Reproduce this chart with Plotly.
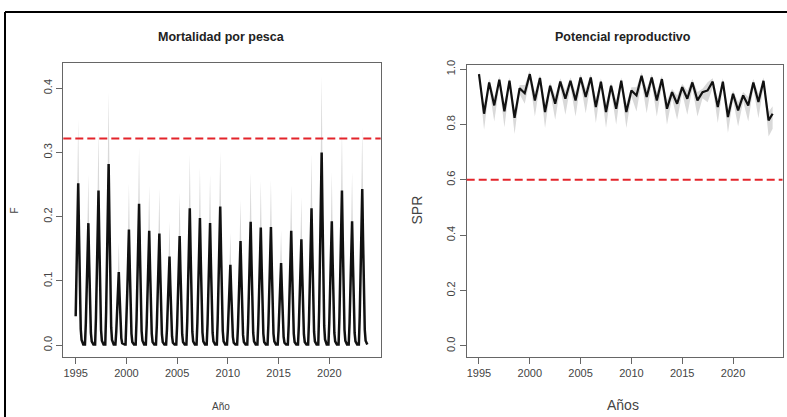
import plotly.graph_objects as go

# ---------------- data ----------------
YEARS = list(range(1995, 2024))

# Fishing mortality F, monthly (Jan..Dec), one row per year (2023 ends in Oct)
F_MONTHLY = [
    [0.045, 0.114, 0.183, 0.252, 0.170, 0.090, 0.025, 0.008, 0.002, 0.001, 0.001, 0.001],  # 1995
    [0.034, 0.086, 0.137, 0.190, 0.127, 0.068, 0.019, 0.006, 0.002, 0.001, 0.001, 0.001],  # 1996
    [0.043, 0.108, 0.174, 0.241, 0.161, 0.087, 0.024, 0.007, 0.002, 0.001, 0.001, 0.001],  # 1997
    [0.051, 0.127, 0.203, 0.282, 0.189, 0.102, 0.028, 0.008, 0.002, 0.001, 0.001, 0.001],  # 1998
    [0.021, 0.051, 0.082, 0.114, 0.076, 0.041, 0.011, 0.003, 0.002, 0.001, 0.001, 0.001],  # 1999
    [0.032, 0.081, 0.130, 0.180, 0.121, 0.065, 0.018, 0.005, 0.002, 0.001, 0.001, 0.001],  # 2000
    [0.040, 0.099, 0.158, 0.220, 0.147, 0.079, 0.022, 0.007, 0.002, 0.001, 0.001, 0.001],  # 2001
    [0.032, 0.080, 0.128, 0.178, 0.119, 0.064, 0.018, 0.005, 0.002, 0.001, 0.001, 0.001],  # 2002
    [0.031, 0.078, 0.125, 0.174, 0.117, 0.063, 0.017, 0.005, 0.002, 0.001, 0.001, 0.001],  # 2003
    [0.025, 0.062, 0.099, 0.138, 0.092, 0.050, 0.014, 0.004, 0.002, 0.001, 0.001, 0.001],  # 2004
    [0.031, 0.077, 0.122, 0.170, 0.114, 0.061, 0.017, 0.005, 0.002, 0.001, 0.001, 0.001],  # 2005
    [0.038, 0.096, 0.153, 0.213, 0.143, 0.077, 0.021, 0.006, 0.002, 0.001, 0.001, 0.001],  # 2006
    [0.036, 0.089, 0.143, 0.198, 0.133, 0.071, 0.020, 0.006, 0.002, 0.001, 0.001, 0.001],  # 2007
    [0.034, 0.086, 0.137, 0.190, 0.127, 0.068, 0.019, 0.006, 0.002, 0.001, 0.001, 0.001],  # 2008
    [0.039, 0.097, 0.156, 0.216, 0.145, 0.078, 0.022, 0.006, 0.002, 0.001, 0.001, 0.001],  # 2009
    [0.023, 0.056, 0.090, 0.125, 0.084, 0.045, 0.013, 0.004, 0.002, 0.001, 0.001, 0.001],  # 2010
    [0.029, 0.073, 0.117, 0.162, 0.109, 0.058, 0.016, 0.005, 0.002, 0.001, 0.001, 0.001],  # 2011
    [0.035, 0.086, 0.138, 0.192, 0.129, 0.069, 0.019, 0.006, 0.002, 0.001, 0.001, 0.001],  # 2012
    [0.033, 0.082, 0.132, 0.183, 0.123, 0.066, 0.018, 0.005, 0.002, 0.001, 0.001, 0.001],  # 2013
    [0.033, 0.083, 0.132, 0.184, 0.123, 0.066, 0.018, 0.006, 0.002, 0.001, 0.001, 0.001],  # 2014
    [0.023, 0.058, 0.092, 0.128, 0.086, 0.046, 0.013, 0.004, 0.002, 0.001, 0.001, 0.001],  # 2015
    [0.032, 0.080, 0.128, 0.178, 0.119, 0.064, 0.018, 0.005, 0.002, 0.001, 0.001, 0.001],  # 2016
    [0.030, 0.074, 0.119, 0.165, 0.111, 0.059, 0.017, 0.005, 0.002, 0.001, 0.001, 0.001],  # 2017
    [0.038, 0.096, 0.153, 0.213, 0.143, 0.077, 0.021, 0.006, 0.002, 0.001, 0.001, 0.001],  # 2018
    [0.054, 0.135, 0.216, 0.300, 0.201, 0.108, 0.030, 0.009, 0.002, 0.001, 0.001, 0.001],  # 2019
    [0.035, 0.087, 0.139, 0.193, 0.129, 0.069, 0.019, 0.006, 0.002, 0.001, 0.001, 0.001],  # 2020
    [0.043, 0.108, 0.174, 0.241, 0.161, 0.087, 0.024, 0.007, 0.002, 0.001, 0.001, 0.001],  # 2021
    [0.035, 0.087, 0.139, 0.193, 0.129, 0.069, 0.019, 0.006, 0.002, 0.001, 0.001, 0.001],  # 2022
    [0.044, 0.109, 0.175, 0.243, 0.163, 0.087, 0.024, 0.007, 0.002, 0.001],                # 2023
]

# Upper confidence limit of F
F_HI_MONTHLY = [
    [0.063, 0.160, 0.256, 0.353, 0.238, 0.126, 0.035, 0.011, 0.003, 0.002, 0.002, 0.002],  # 1995
    [0.048, 0.120, 0.192, 0.266, 0.178, 0.095, 0.027, 0.008, 0.003, 0.002, 0.002, 0.002],  # 1996
    [0.060, 0.151, 0.244, 0.337, 0.225, 0.122, 0.034, 0.010, 0.003, 0.002, 0.002, 0.002],  # 1997
    [0.071, 0.178, 0.284, 0.395, 0.265, 0.143, 0.039, 0.011, 0.003, 0.002, 0.002, 0.002],  # 1998
    [0.029, 0.071, 0.115, 0.160, 0.106, 0.057, 0.015, 0.004, 0.003, 0.002, 0.002, 0.002],  # 1999
    [0.045, 0.113, 0.182, 0.252, 0.169, 0.091, 0.025, 0.007, 0.003, 0.002, 0.002, 0.002],  # 2000
    [0.056, 0.139, 0.221, 0.308, 0.206, 0.111, 0.031, 0.010, 0.003, 0.002, 0.002, 0.002],  # 2001
    [0.045, 0.112, 0.179, 0.249, 0.167, 0.090, 0.025, 0.007, 0.003, 0.002, 0.002, 0.002],  # 2002
    [0.043, 0.109, 0.175, 0.244, 0.164, 0.088, 0.024, 0.007, 0.003, 0.002, 0.002, 0.002],  # 2003
    [0.035, 0.087, 0.139, 0.193, 0.129, 0.070, 0.020, 0.006, 0.003, 0.002, 0.002, 0.002],  # 2004
    [0.043, 0.108, 0.171, 0.238, 0.160, 0.085, 0.024, 0.007, 0.003, 0.002, 0.002, 0.002],  # 2005
    [0.053, 0.134, 0.214, 0.298, 0.200, 0.108, 0.029, 0.008, 0.003, 0.002, 0.002, 0.002],  # 2006
    [0.050, 0.125, 0.200, 0.277, 0.186, 0.099, 0.028, 0.008, 0.003, 0.002, 0.002, 0.002],  # 2007
    [0.048, 0.120, 0.192, 0.266, 0.178, 0.095, 0.027, 0.008, 0.003, 0.002, 0.002, 0.002],  # 2008
    [0.055, 0.136, 0.218, 0.302, 0.203, 0.109, 0.031, 0.008, 0.003, 0.002, 0.002, 0.002],  # 2009
    [0.032, 0.078, 0.126, 0.175, 0.118, 0.063, 0.018, 0.006, 0.003, 0.002, 0.002, 0.002],  # 2010
    [0.041, 0.102, 0.164, 0.227, 0.153, 0.081, 0.022, 0.007, 0.003, 0.002, 0.002, 0.002],  # 2011
    [0.049, 0.120, 0.193, 0.269, 0.181, 0.097, 0.027, 0.008, 0.003, 0.002, 0.002, 0.002],  # 2012
    [0.046, 0.115, 0.185, 0.256, 0.172, 0.092, 0.025, 0.007, 0.003, 0.002, 0.002, 0.002],  # 2013
    [0.046, 0.116, 0.185, 0.258, 0.172, 0.092, 0.025, 0.008, 0.003, 0.002, 0.002, 0.002],  # 2014
    [0.032, 0.081, 0.129, 0.179, 0.120, 0.064, 0.018, 0.006, 0.003, 0.002, 0.002, 0.002],  # 2015
    [0.045, 0.112, 0.179, 0.249, 0.167, 0.090, 0.025, 0.007, 0.003, 0.002, 0.002, 0.002],  # 2016
    [0.042, 0.104, 0.167, 0.231, 0.155, 0.083, 0.024, 0.007, 0.003, 0.002, 0.002, 0.002],  # 2017
    [0.053, 0.134, 0.214, 0.298, 0.200, 0.108, 0.029, 0.008, 0.003, 0.002, 0.002, 0.002],  # 2018
    [0.076, 0.189, 0.302, 0.420, 0.281, 0.151, 0.042, 0.013, 0.003, 0.002, 0.002, 0.002],  # 2019
    [0.049, 0.122, 0.195, 0.270, 0.181, 0.097, 0.027, 0.008, 0.003, 0.002, 0.002, 0.002],  # 2020
    [0.060, 0.151, 0.244, 0.337, 0.225, 0.122, 0.034, 0.010, 0.003, 0.002, 0.002, 0.002],  # 2021
    [0.049, 0.122, 0.195, 0.270, 0.181, 0.097, 0.027, 0.008, 0.003, 0.002, 0.002, 0.002],  # 2022
    [0.062, 0.153, 0.245, 0.340, 0.228, 0.122, 0.034, 0.010, 0.003, 0.002],                # 2023
]

# Lower confidence limit of F
F_LO_MONTHLY = [
    [0.032, 0.081, 0.130, 0.179, 0.121, 0.064, 0.018, 0.006, 0.001, 0.001, 0.000, 0.000],  # 1995
    [0.024, 0.061, 0.097, 0.135, 0.090, 0.048, 0.013, 0.004, 0.001, 0.001, 0.000, 0.000],  # 1996
    [0.031, 0.077, 0.124, 0.171, 0.114, 0.062, 0.017, 0.005, 0.001, 0.001, 0.000, 0.000],  # 1997
    [0.036, 0.090, 0.144, 0.200, 0.134, 0.072, 0.020, 0.006, 0.001, 0.001, 0.000, 0.000],  # 1998
    [0.015, 0.036, 0.058, 0.081, 0.054, 0.029, 0.008, 0.002, 0.001, 0.001, 0.000, 0.000],  # 1999
    [0.023, 0.058, 0.092, 0.128, 0.086, 0.046, 0.013, 0.004, 0.001, 0.001, 0.000, 0.000],  # 2000
    [0.028, 0.070, 0.112, 0.156, 0.104, 0.056, 0.016, 0.005, 0.001, 0.001, 0.000, 0.000],  # 2001
    [0.023, 0.057, 0.091, 0.126, 0.084, 0.045, 0.013, 0.004, 0.001, 0.001, 0.000, 0.000],  # 2002
    [0.022, 0.055, 0.089, 0.124, 0.083, 0.045, 0.012, 0.004, 0.001, 0.001, 0.000, 0.000],  # 2003
    [0.018, 0.044, 0.070, 0.098, 0.065, 0.036, 0.010, 0.003, 0.001, 0.001, 0.000, 0.000],  # 2004
    [0.022, 0.055, 0.087, 0.121, 0.081, 0.043, 0.012, 0.004, 0.001, 0.001, 0.000, 0.000],  # 2005
    [0.027, 0.068, 0.109, 0.151, 0.102, 0.055, 0.015, 0.004, 0.001, 0.001, 0.000, 0.000],  # 2006
    [0.026, 0.063, 0.102, 0.141, 0.094, 0.050, 0.014, 0.004, 0.001, 0.001, 0.000, 0.000],  # 2007
    [0.024, 0.061, 0.097, 0.135, 0.090, 0.048, 0.013, 0.004, 0.001, 0.001, 0.000, 0.000],  # 2008
    [0.028, 0.069, 0.111, 0.153, 0.103, 0.055, 0.016, 0.004, 0.001, 0.001, 0.000, 0.000],  # 2009
    [0.016, 0.040, 0.064, 0.089, 0.060, 0.032, 0.009, 0.003, 0.001, 0.001, 0.000, 0.000],  # 2010
    [0.021, 0.052, 0.083, 0.115, 0.077, 0.041, 0.011, 0.004, 0.001, 0.001, 0.000, 0.000],  # 2011
    [0.025, 0.061, 0.098, 0.136, 0.092, 0.049, 0.013, 0.004, 0.001, 0.001, 0.000, 0.000],  # 2012
    [0.023, 0.058, 0.094, 0.130, 0.087, 0.047, 0.013, 0.004, 0.001, 0.001, 0.000, 0.000],  # 2013
    [0.023, 0.059, 0.094, 0.131, 0.087, 0.047, 0.013, 0.004, 0.001, 0.001, 0.000, 0.000],  # 2014
    [0.016, 0.041, 0.065, 0.091, 0.061, 0.033, 0.009, 0.003, 0.001, 0.001, 0.000, 0.000],  # 2015
    [0.023, 0.057, 0.091, 0.126, 0.084, 0.045, 0.013, 0.004, 0.001, 0.001, 0.000, 0.000],  # 2016
    [0.021, 0.053, 0.084, 0.117, 0.079, 0.042, 0.012, 0.004, 0.001, 0.001, 0.000, 0.000],  # 2017
    [0.027, 0.068, 0.109, 0.151, 0.102, 0.055, 0.015, 0.004, 0.001, 0.001, 0.000, 0.000],  # 2018
    [0.038, 0.096, 0.153, 0.213, 0.143, 0.077, 0.021, 0.006, 0.001, 0.001, 0.000, 0.000],  # 2019
    [0.025, 0.062, 0.099, 0.137, 0.092, 0.049, 0.013, 0.004, 0.001, 0.001, 0.000, 0.000],  # 2020
    [0.031, 0.077, 0.124, 0.171, 0.114, 0.062, 0.017, 0.005, 0.001, 0.001, 0.000, 0.000],  # 2021
    [0.025, 0.062, 0.099, 0.137, 0.092, 0.049, 0.013, 0.004, 0.001, 0.001, 0.000, 0.000],  # 2022
    [0.031, 0.077, 0.124, 0.173, 0.116, 0.062, 0.017, 0.005, 0.001, 0.001],                # 2023
]

F_REF = 0.322      # reference F (red dashed)

# SPR: values at start of year (Jan) and mid-year (Jul), plus final point
SPR_JAN = [0.982, 0.952, 0.962, 0.958, 0.931, 0.982, 0.968, 0.940, 0.955, 0.958,
           0.970, 0.970, 0.955, 0.940, 0.958, 0.923, 0.976, 0.970, 0.964, 0.917,
           0.935, 0.952, 0.917, 0.955, 0.955, 0.911, 0.905, 0.952, 0.958]
SPR_JAN_HI = [0.994, 0.964, 0.974, 0.970, 0.943, 0.994, 0.980, 0.952, 0.967, 0.970,
              0.982, 0.982, 0.967, 0.952, 0.970, 0.935, 0.988, 0.982, 0.976, 0.929,
              0.947, 0.964, 0.929, 0.967, 0.967, 0.923, 0.917, 0.964, 0.970]
SPR_JAN_LO = [0.960, 0.930, 0.940, 0.936, 0.909, 0.960, 0.946, 0.918, 0.933, 0.936,
              0.948, 0.948, 0.933, 0.918, 0.936, 0.901, 0.954, 0.948, 0.942, 0.895,
              0.913, 0.930, 0.895, 0.933, 0.933, 0.889, 0.883, 0.930, 0.936]
SPR_JUL = [0.839, 0.869, 0.848, 0.824, 0.913, 0.887, 0.845, 0.875, 0.893, 0.887,
           0.899, 0.863, 0.845, 0.857, 0.845, 0.905, 0.899, 0.887, 0.857, 0.875,
           0.893, 0.887, 0.923, 0.863, 0.827, 0.851, 0.869, 0.881, 0.815]
SPR_JUL_HI = [0.869, 0.899, 0.878, 0.854, 0.943, 0.917, 0.875, 0.905, 0.923, 0.917,
              0.929, 0.893, 0.875, 0.887, 0.875, 0.935, 0.929, 0.917, 0.887, 0.905,
              0.923, 0.917, 0.953, 0.893, 0.857, 0.881, 0.899, 0.911, 0.845]
SPR_JUL_LO = [0.781, 0.811, 0.790, 0.766, 0.875, 0.829, 0.787, 0.817, 0.835, 0.829,
              0.841, 0.805, 0.787, 0.799, 0.787, 0.847, 0.841, 0.829, 0.799, 0.817,
              0.835, 0.829, 0.880, 0.805, 0.769, 0.793, 0.811, 0.823, 0.757]
SPR_END_TIME = 2023.9
SPR_END, SPR_END_HI, SPR_END_LO = 0.839, 0.866, 0.785
SPR_REF = 0.6      # reference SPR (red dashed)

# ---------------- build series ----------------
f_t, f_v, f_hi, f_lo = [], [], [], []
for yr, row, rh, rl in zip(YEARS, F_MONTHLY, F_HI_MONTHLY, F_LO_MONTHLY):
    for m in range(len(row)):
        f_t.append(yr + m / 12.0)
        f_v.append(row[m]); f_hi.append(rh[m]); f_lo.append(rl[m])

s_t, s_v, s_hi, s_lo = [], [], [], []
for i, yr in enumerate(YEARS):
    s_t += [yr, yr + 0.5]
    s_v += [SPR_JAN[i], SPR_JUL[i]]
    s_hi += [SPR_JAN_HI[i], SPR_JUL_HI[i]]
    s_lo += [SPR_JAN_LO[i], SPR_JUL_LO[i]]
s_t.append(SPR_END_TIME); s_v.append(SPR_END); s_hi.append(SPR_END_HI); s_lo.append(SPR_END_LO)

# ---------------- figure ----------------
W, H = 787, 417
BAND = "#d9d9d9"
fig = go.Figure()

fig.add_trace(go.Scatter(x=f_t, y=f_lo, mode="lines", line=dict(width=0), hoverinfo="skip",
                         showlegend=False, xaxis="x", yaxis="y"))
fig.add_trace(go.Scatter(x=f_t, y=f_hi, mode="lines", line=dict(width=0), fill="tonexty",
                         fillcolor=BAND, hoverinfo="skip", showlegend=False, xaxis="x", yaxis="y"))
fig.add_trace(go.Scatter(x=f_t, y=f_v, mode="lines", line=dict(color="#111111", width=2.5),
                         showlegend=False, xaxis="x", yaxis="y"))

fig.add_trace(go.Scatter(x=s_t, y=s_lo, mode="lines", line=dict(width=0), hoverinfo="skip",
                         showlegend=False, xaxis="x2", yaxis="y2"))
fig.add_trace(go.Scatter(x=s_t, y=s_hi, mode="lines", line=dict(width=0), fill="tonexty",
                         fillcolor=BAND, hoverinfo="skip", showlegend=False, xaxis="x2", yaxis="y2"))
fig.add_trace(go.Scatter(x=s_t, y=s_v, mode="lines", line=dict(color="#111111", width=2.2),
                         showlegend=False, xaxis="x2", yaxis="y2"))

FONT = "Liberation Sans, Arial, sans-serif"
TICKC = "#444444"
FRAME = "#666666"

def px_x(p):
    return p / W

def px_y(p):
    return 1 - p / H

common = dict(showline=True, mirror=True, linecolor=FRAME, linewidth=1, ticks="outside",
              ticklen=6, tickcolor=FRAME, showgrid=False, zeroline=False,
              tickfont=dict(family=FONT, size=11, color=TICKC))

fig.update_layout(
    width=W, height=H, margin=dict(l=0, r=0, t=0, b=0),
    paper_bgcolor="white", plot_bgcolor="white", showlegend=False,
    xaxis=dict(domain=[px_x(63.3), px_x(380.7)], range=[1993.78, 2025.07],
               tickvals=[1995, 2000, 2005, 2010, 2015, 2020], anchor="y", **common),
    yaxis=dict(domain=[px_y(356), px_y(58.3)], range=[-0.018, 0.440],
               tickvals=[0, 0.1, 0.2, 0.3, 0.4], tickformat=".1f", tickangle=-90,
               anchor="x", **common),
    xaxis2=dict(domain=[px_x(466.7), px_x(782.5)], range=[1993.79, 2024.87],
                tickvals=[1995, 2000, 2005, 2010, 2015, 2020], anchor="y2", **common),
    yaxis2=dict(domain=[px_y(356), px_y(61)], range=[-0.039, 1.014],
                tickvals=[0, 0.2, 0.4, 0.6, 0.8, 1.0], tickformat=".1f", tickangle=-90,
                anchor="x2", **common),
)

# reference lines
fig.add_shape(type="line", xref="x domain", yref="y", x0=0, x1=1, y0=F_REF, y1=F_REF,
              line=dict(color="#e3242b", width=2, dash="8px,4px"))
fig.add_shape(type="line", xref="x2 domain", yref="y2", x0=0, x1=1, y0=SPR_REF, y1=SPR_REF,
              line=dict(color="#e3242b", width=2, dash="8px,4px"))

# outer border (left and top)
fig.add_shape(type="line", xref="paper", yref="paper", x0=px_x(5), x1=px_x(5), y0=0, y1=px_y(7),
              line=dict(color="black", width=2))
fig.add_shape(type="line", xref="paper", yref="paper", x0=px_x(5), x1=1, y0=px_y(7), y1=px_y(7),
              line=dict(color="black", width=2))

def ann(text, x, y, size, bold=False, angle=0, color="#222222"):
    fig.add_annotation(text=f"<b>{text}</b>" if bold else text, xref="paper", yref="paper",
                       x=px_x(x), y=px_y(y), xanchor="center", yanchor="middle",
                       showarrow=False, textangle=angle,
                       font=dict(family=FONT, size=size, color=color))

ann("Mortalidad por pesca", 221, 32, 12.5, bold=True)
ann("Potencial reproductivo", 623, 32, 12.5, bold=True)
ann("Año", 221, 406, 10, color="#444444")
ann("F", 15, 208, 10, angle=-90, color="#444444")
ann("Años", 623, 405, 14, color="#444444")
ann("SPR", 417, 208, 14, angle=-90, color="#444444")

fig.write_html("out.html")
